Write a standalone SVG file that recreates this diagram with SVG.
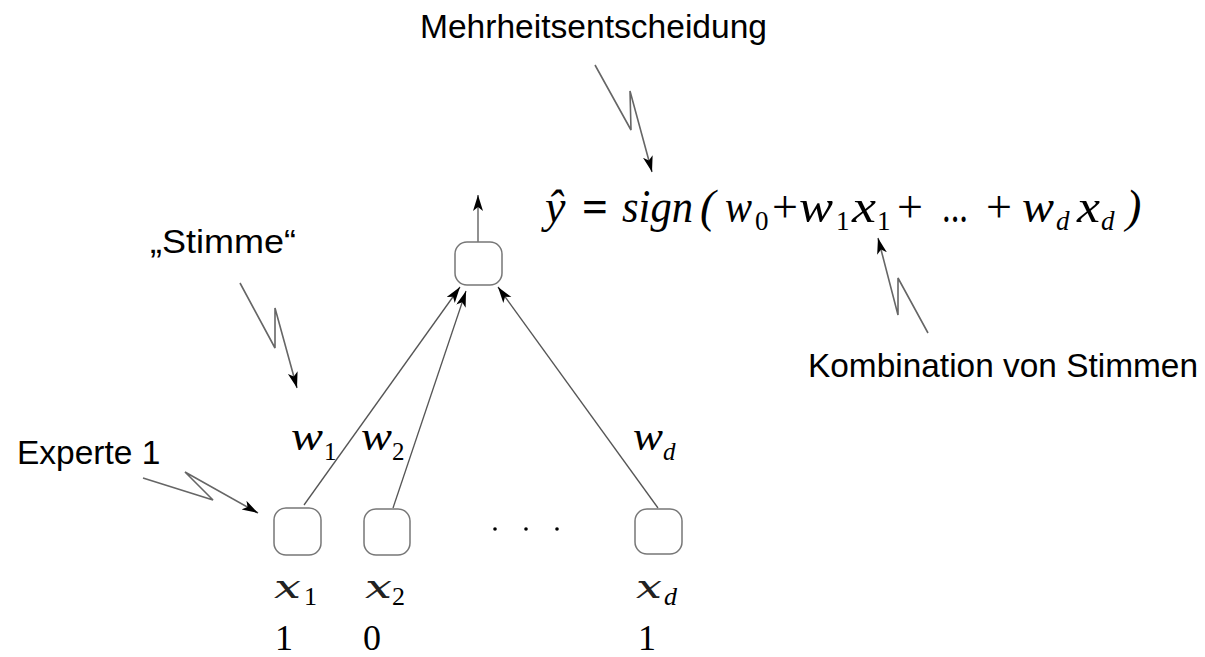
<svg xmlns="http://www.w3.org/2000/svg" width="1205" height="657" viewBox="0 0 1205 657">
<style>
.lbl{font-family:"Liberation Sans",Arial,sans-serif;font-size:33.5px;fill:#000}
.m{font-family:"Liberation Serif","Times New Roman",serif;font-style:italic;fill:#000}
.r{font-family:"Liberation Serif","Times New Roman",serif;fill:#000}
.cx{font-family:"DejaVu Serif",serif;font-style:italic;font-size:32px;fill:#222}
.node{fill:#fff;stroke:#777;stroke-width:1.5}
.edge{fill:none;stroke:#555;stroke-width:1.3}
.bolt{fill:none;stroke:#666;stroke-width:1.6;stroke-linejoin:miter}
</style>
<defs>
<marker id="ah" markerUnits="userSpaceOnUse" markerWidth="18" markerHeight="12" refX="16" refY="5" orient="auto">
<path d="M0,0 L16,5 L0,10 L4,5 Z" fill="#000"/>
</marker>
</defs>
<rect width="1205" height="657" fill="#fff"/>

<g id="connectors">
<line class="edge" x1="304" y1="505" x2="460" y2="287" marker-end="url(#ah)"/>
<line class="edge" x1="393" y1="508" x2="466" y2="291" marker-end="url(#ah)"/>
<line class="edge" x1="658" y1="508" x2="498" y2="287" marker-end="url(#ah)"/>
<line class="edge" x1="478" y1="242" x2="478" y2="195" marker-end="url(#ah)"/>
<polyline class="bolt" points="595,65 631,130 630,91 652,172" marker-end="url(#ah)"/>
<polyline class="bolt" points="240,283 275,348 275,308 297,388" marker-end="url(#ah)"/>
<polyline class="bolt" points="143,478 213,500 185,472 258,513" marker-end="url(#ah)"/>
<polyline class="bolt" points="928,333 898,278 898,315 878,238" marker-end="url(#ah)"/>
</g>

<g id="node-out"><rect class="node" x="455" y="242" width="47" height="43" rx="12"/></g>
<g id="node-x1"><rect class="node" x="274" y="508" width="47" height="47" rx="12"/>
<text class="cx" x="274" y="598" textLength="27" lengthAdjust="spacingAndGlyphs">x</text><text class="r" x="304" y="605" font-size="26" fill="#222">1</text>
<text class="r" x="275" y="650" font-size="36">1</text></g>
<g id="node-x2"><rect class="node" x="364" y="509" width="46" height="46" rx="12"/>
<text class="cx" x="365" y="598" textLength="27" lengthAdjust="spacingAndGlyphs">x</text><text class="r" x="392" y="605" font-size="26" fill="#222">2</text>
<text class="r" x="363" y="650" font-size="36">0</text></g>
<g id="node-xd"><rect class="node" x="635" y="509" width="47" height="45" rx="12"/>
<text class="cx" x="636" y="598" textLength="26" lengthAdjust="spacingAndGlyphs">x</text><text class="m" x="664" y="605" font-size="26" fill="#222">d</text>
<text class="r" x="638" y="650" font-size="36">1</text></g>

<g id="dots" fill="#000"><circle cx="495" cy="529" r="1.8"/><circle cx="526" cy="529" r="1.8"/><circle cx="557" cy="529" r="1.8"/></g>

<g id="weights">
<text class="m" x="291" y="450" font-size="40" textLength="32" lengthAdjust="spacingAndGlyphs">w</text><text class="r" x="324" y="460" font-size="25">1</text>
<text class="m" x="361" y="450" font-size="40" textLength="31" lengthAdjust="spacingAndGlyphs">w</text><text class="r" x="392" y="460" font-size="25">2</text>
<text class="m" x="633" y="450" font-size="40" textLength="30" lengthAdjust="spacingAndGlyphs">w</text><text class="m" x="663" y="460" font-size="25">d</text>
</g>

<g id="equation">
<text class="m" x="545" y="222" font-size="46">ŷ</text>
<text class="r" x="582" y="222" font-size="46" font-weight="bold" textLength="26" lengthAdjust="spacingAndGlyphs">=</text>
<text class="m" x="622" y="222" font-size="46" textLength="71" lengthAdjust="spacingAndGlyphs">sign</text>
<text class="m" x="700" y="222" font-size="46">(</text>
<text class="m" x="725" y="222" font-size="46" textLength="27" lengthAdjust="spacingAndGlyphs">w</text><text class="r" x="755" y="230" font-size="27">0</text>
<text class="r" x="772" y="222" font-size="46">+</text>
<text class="m" x="799" y="222" font-size="46" textLength="34" lengthAdjust="spacingAndGlyphs">w</text><text class="r" x="836" y="230" font-size="27">1</text>
<text class="m" x="852" y="222" font-size="46" textLength="24" lengthAdjust="spacingAndGlyphs">x</text><text class="r" x="877" y="230" font-size="27">1</text>
<text class="r" x="897" y="222" font-size="46">+</text>
<text class="r" x="942" y="222" font-size="46" textLength="26" lengthAdjust="spacingAndGlyphs">...</text>
<text class="r" x="986" y="222" font-size="46">+</text>
<text class="m" x="1022" y="222" font-size="46" textLength="32" lengthAdjust="spacingAndGlyphs">w</text><text class="m" x="1056" y="230" font-size="27">d</text>
<text class="m" x="1077" y="222" font-size="46" textLength="23" lengthAdjust="spacingAndGlyphs">x</text><text class="m" x="1101" y="230" font-size="27">d</text>
<text class="m" x="1126" y="222" font-size="46">)</text>
</g>

<g id="labels">
<text class="lbl" x="420" y="38" textLength="347" lengthAdjust="spacingAndGlyphs">Mehrheitsentscheidung</text>
<text class="lbl" x="150" y="253" textLength="146" lengthAdjust="spacingAndGlyphs">„Stimme“</text>
<text class="lbl" x="17" y="464" font-size="32">Experte 1</text>
<text class="lbl" x="808" y="377" textLength="390" lengthAdjust="spacingAndGlyphs">Kombination von Stimmen</text>
</g>
</svg>
